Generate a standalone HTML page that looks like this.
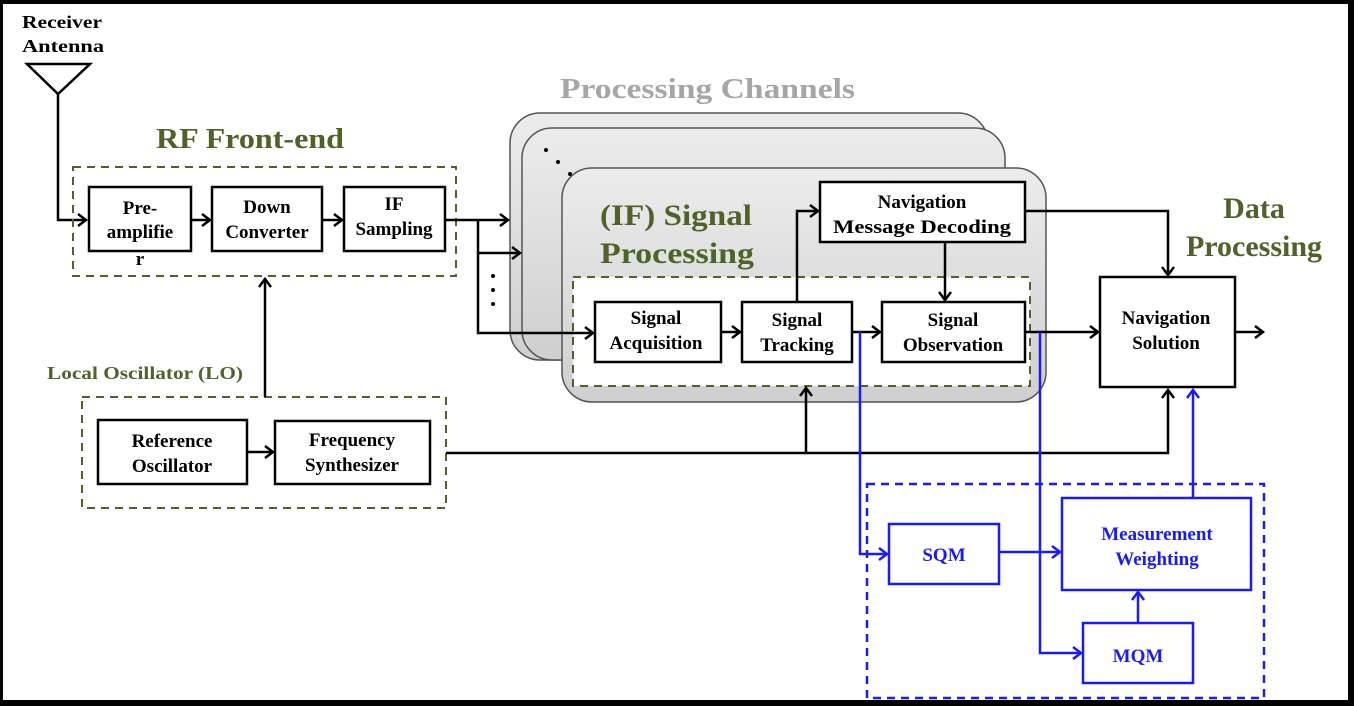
<!DOCTYPE html>
<html><head><meta charset="utf-8"><style>
html,body{margin:0;padding:0;background:#000;}
svg{display:block;}
text{font-family:"Liberation Serif",serif;font-weight:bold;}
</style></head><body>
<svg width="1354" height="706" viewBox="0 0 1354 706" xmlns="http://www.w3.org/2000/svg">
<defs>
<marker id="ab" markerWidth="14" markerHeight="14" refX="10" refY="7" orient="auto" markerUnits="userSpaceOnUse"><path d="M2,1 L10,7 L2,13" fill="none" stroke="#000" stroke-width="2.5"/></marker>
<marker id="au" markerWidth="14" markerHeight="14" refX="10" refY="7" orient="auto" markerUnits="userSpaceOnUse"><path d="M2,1 L10,7 L2,13" fill="none" stroke="#1a1aff" stroke-width="2.5"/></marker>
<linearGradient id="g" x1="0" y1="0" x2="0" y2="1"><stop offset="0" stop-color="#ececec"/><stop offset="1" stop-color="#cfcfcf"/></linearGradient>
</defs>
<rect x="3" y="4" width="1345" height="696" fill="#fff"/>

<text x="22" y="28" font-size="18" textLength="80" lengthAdjust="spacingAndGlyphs">Receiver</text>
<text x="22" y="52" font-size="18" textLength="82" lengthAdjust="spacingAndGlyphs">Antenna</text>
<path d="M27,64 L90,64 L58,94 Z" fill="none" stroke="#000" stroke-width="2.5"/>
<path d="M58,94 L58,220 L86,220" fill="none" stroke="#000" stroke-width="2.5" marker-end="url(#ab)"/>

<text x="156" y="148" font-size="28" fill="#4f6228" textLength="188" lengthAdjust="spacingAndGlyphs">RF Front-end</text>
<rect x="73" y="167" width="383" height="109" fill="none" stroke="#4f6228" stroke-width="2" stroke-dasharray="8,6"/>
<g fill="#fff" stroke="#000" stroke-width="2.5">
<rect x="89" y="187" width="102" height="64"/>
<rect x="212" y="187" width="110" height="64"/>
<rect x="344" y="187" width="101" height="64"/>
</g>
<g font-size="19" text-anchor="middle">
<text x="140" y="214">Pre-</text><text x="140" y="238">amplifie</text><text x="140" y="265">r</text>
<text x="267" y="213">Down</text><text x="267" y="238">Converter</text>
<text x="394" y="210">IF</text><text x="394" y="235">Sampling</text>
</g>
<g stroke="#000" stroke-width="2.5" fill="none">
<path d="M191,220 L210,220" marker-end="url(#ab)"/>
<path d="M322,220 L342,220" marker-end="url(#ab)"/>
</g>

<text x="47" y="379" font-size="18" fill="#4f6228" textLength="196" lengthAdjust="spacingAndGlyphs">Local Oscillator (LO)</text>
<rect x="82" y="397" width="364" height="111" fill="none" stroke="#4f6228" stroke-width="2" stroke-dasharray="8,6"/>
<g fill="#fff" stroke="#000" stroke-width="2.5">
<rect x="98" y="420" width="149" height="64"/>
<rect x="275" y="421" width="155" height="63"/>
</g>
<g font-size="19" text-anchor="middle">
<text x="172" y="447">Reference</text><text x="172" y="472">Oscillator</text>
<text x="352" y="446">Frequency</text><text x="352" y="471">Synthesizer</text>
</g>
<g stroke="#000" stroke-width="2.5" fill="none">
<path d="M247,452 L273,452" marker-end="url(#ab)"/>
<path d="M265,397 L265,279" marker-end="url(#ab)"/>
</g>

<text x="560" y="98" font-size="29" fill="#a6a6a6" textLength="295" lengthAdjust="spacingAndGlyphs">Processing Channels</text>
<rect x="510" y="113" width="478" height="247" rx="30" fill="url(#g)" stroke="#555" stroke-width="1.5"/>
<rect x="522" y="128" width="483" height="232" rx="30" fill="url(#g)" stroke="#555" stroke-width="1.5"/>
<circle cx="546" cy="150" r="2" fill="#000"/><circle cx="558" cy="162" r="2" fill="#000"/><circle cx="570" cy="174" r="2" fill="#000"/>
<rect x="562" y="168" width="484" height="234" rx="30" fill="url(#g)" stroke="#555" stroke-width="1.5"/>
<text x="600" y="225" font-size="30" fill="#4f6228" textLength="152" lengthAdjust="spacingAndGlyphs">(IF) Signal</text>
<text x="600" y="263" font-size="30" fill="#4f6228" textLength="154" lengthAdjust="spacingAndGlyphs">Processing</text>
<rect x="573" y="277" width="457" height="109" fill="#fff" stroke="#4f6228" stroke-width="2" stroke-dasharray="8,6"/>

<g stroke="#000" stroke-width="2.5" fill="none">
<path d="M445,220 L508,220" marker-end="url(#ab)"/>
<path d="M478,220 L478,333 L593,333" marker-end="url(#ab)"/>
<path d="M478,253 L520,253" marker-end="url(#ab)"/>
</g>
<circle cx="493" cy="276" r="2" fill="#000"/><circle cx="493" cy="290" r="2" fill="#000"/><circle cx="493" cy="304" r="2" fill="#000"/>

<g fill="#fff" stroke="#000" stroke-width="2.5">
<rect x="820" y="182" width="205" height="60"/>
<rect x="595" y="302" width="126" height="60"/>
<rect x="742" y="302" width="110" height="60"/>
<rect x="882" y="302" width="143" height="60"/>
<rect x="1100" y="277" width="135" height="110"/>
</g>
<g font-size="19" text-anchor="middle">
<text x="922" y="208">Navigation</text><text x="922" y="233" textLength="178" lengthAdjust="spacingAndGlyphs">Message Decoding</text>
<text x="656" y="324">Signal</text><text x="656" y="349">Acquisition</text>
<text x="797" y="326">Signal</text><text x="797" y="351">Tracking</text>
<text x="953" y="326">Signal</text><text x="953" y="351">Observation</text>
<text x="1166" y="324">Navigation</text><text x="1166" y="349">Solution</text>
</g>
<text x="1254" y="218" font-size="30" fill="#4f6228" text-anchor="middle">Data</text>
<text x="1254" y="256" font-size="30" fill="#4f6228" text-anchor="middle">Processing</text>

<g stroke="#000" stroke-width="2.5" fill="none">
<path d="M721,332 L740,332" marker-end="url(#ab)"/>
<path d="M852,332 L880,332" marker-end="url(#ab)"/>
<path d="M797,302 L797,211 L818,211" marker-end="url(#ab)"/>
<path d="M945,242 L945,300" marker-end="url(#ab)"/>
<path d="M1025,211 L1168,211 L1168,275" marker-end="url(#ab)"/>
<path d="M1025,332 L1098,332" marker-end="url(#ab)"/>
<path d="M1235,332 L1263,332" marker-end="url(#ab)"/>
<path d="M446,453 L1168,453 L1168,390" marker-end="url(#ab)"/>
<path d="M806,453 L806,388" marker-end="url(#ab)"/>
</g>

<rect x="867" y="484" width="397" height="214" fill="none" stroke="#1a1aff" stroke-width="2.5" stroke-dasharray="8,6"/>
<g fill="#fff" stroke="#1a1aff" stroke-width="2.5">
<rect x="889" y="524" width="110" height="60"/>
<rect x="1062" y="498" width="189" height="92"/>
<rect x="1083" y="623" width="110" height="60"/>
</g>
<g font-size="19" text-anchor="middle" fill="#1a1aff">
<text x="944" y="561">SQM</text>
<text x="1157" y="540">Measurement</text><text x="1157" y="565">Weighting</text>
<text x="1138" y="662">MQM</text>
</g>
<g stroke="#1a1aff" stroke-width="2.5" fill="none">
<path d="M860,332 L860,554 L887,554" marker-end="url(#au)"/>
<path d="M1040,332 L1040,653 L1081,653" marker-end="url(#au)"/>
<path d="M999,552 L1060,552" marker-end="url(#au)"/>
<path d="M1138,623 L1138,592" marker-end="url(#au)"/>
<path d="M1193,498 L1193,390" marker-end="url(#au)"/>
</g>
</svg>
</body></html>
